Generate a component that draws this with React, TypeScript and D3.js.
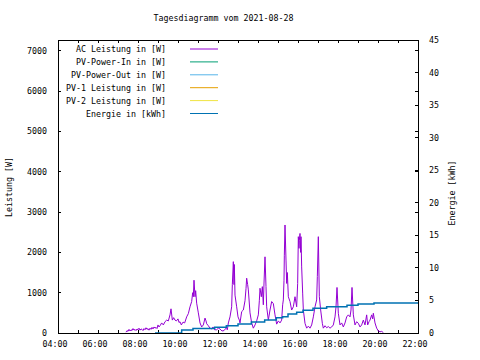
import React from "react";
import * as d3 from "d3";

const title = "Tagesdiagramm vom 2021-08-28";
const xTickLabels = ["04:00", "06:00", "08:00", "10:00", "12:00", "14:00", "16:00", "18:00", "20:00", "22:00"];
const yLeftTicks = [0, 1000, 2000, 3000, 4000, 5000, 6000, 7000];
const yRightTicks = [0, 5, 10, 15, 20, 25, 30, 35, 40, 45];

const seriesNames = [
  "AC Leistung in [W]",
  "PV-Power-In in [W]",
  "PV-Power-Out in [W]",
  "PV-1 Leistung in [W]",
  "PV-2 Leistung in [W]",
  "Energie in [kWh]",
];
const seriesColors = ["#9400d3", "#009e73", "#56b4e9", "#e69f00", "#f0e442", "#0072b2"];

const acTimes = [
  "07:24","07:27","07:30","07:33","07:36","07:39","07:42","07:45","07:48","07:51","07:54","07:57",
  "08:00","08:03","08:06","08:09","08:12","08:15","08:18","08:21","08:24","08:27","08:30","08:33",
  "08:36","08:39","08:42","08:45","08:48","08:51","08:54","08:57","09:00","09:03","09:06","09:11",
  "09:16","09:21","09:26","09:31","09:36","09:39","09:43","09:47","09:51","09:55","10:00","10:03",
  "10:06","10:10","10:15","10:20","10:26","10:31","10:36","10:41","10:44","10:46","10:48","10:51",
  "10:53","10:56","11:01","11:06","11:11","11:16","11:21","11:24","11:26","11:31","11:36","11:41",
  "11:45","11:50","11:56","12:01","12:06","12:12","12:18","12:24","12:28","12:31","12:36","12:41",
  "12:43","12:46","12:48","12:49","12:51","12:56","13:00","13:04","13:06","13:11","13:16","13:21",
  "13:24","13:26","13:29","13:31","13:36","13:41","13:46","13:51","13:56","14:01","14:04","14:06",
  "14:10","14:13","14:16","14:18","14:21","14:24","14:26","14:31","14:36","14:41","14:46","14:51",
  "14:56","15:01","15:06","15:11","15:14","15:16","15:18","15:19","15:21","15:24","15:26","15:28",
  "15:31","15:36","15:41","15:46","15:51","15:56","15:59","16:01","16:03","16:04","16:06","16:08",
  "16:09","16:11","16:14","16:16","16:21","16:26","16:31","16:36","16:41","16:46","16:51","16:56",
  "16:58","17:01","17:04","17:08","17:13","17:16","17:21","17:26","17:31","17:36","17:41","17:46",
  "17:51","17:54","17:57","18:01","18:06","18:11","18:16","18:21","18:26","18:31","18:36","18:39",
  "18:42","18:46","18:51","18:56","19:01","19:06","19:11","19:16","19:21","19:26","19:29","19:33",
  "19:36","19:41","19:44","19:46","19:51","19:56","20:01","20:06","20:11","20:16",
];
const acWatts = [
  20, 60, 40, 90, 50, 80, 60, 110, 70, 90, 60, 100,
  80, 120, 70, 100, 90, 60, 110, 80, 130, 90, 110, 70,
  120, 90, 140, 100, 150, 120, 140, 110, 200, 150, 180, 250,
  200, 280, 320, 300, 450, 600, 320, 380, 320, 300, 350, 260,
  280, 200, 270, 250, 400, 480, 650, 780, 1000, 900, 1310, 900,
  1050, 740, 500, 250, 150, 200, 370, 300, 230, 180, 120, 100,
  150, 80, 80, 120, 100, 50, 60, 120, 80, 250, 400, 650,
  1200, 1770, 1200, 1700, 940, 650, 400, 320, 250, 530, 570, 800,
  1100, 1360, 1200, 1070, 500, 250, 120, 200, 300, 450, 800, 1110,
  900, 1150, 700, 1240, 1890, 1150, 650, 320, 570, 780, 730, 450,
  220, 300, 250, 320, 700, 820, 1310, 1930, 2680, 1810, 1230, 1500,
  900, 780, 570, 650, 900, 650, 1230, 2390, 2100, 2300, 2470, 2000,
  2390, 1640, 990, 570, 240, 120, 170, 120, 200, 400, 650, 820,
  1400, 2390, 900, 570, 240, 120, 180, 130, 160, 120, 150, 200,
  400, 650, 1130, 490, 200, 250, 150, 250, 400, 450, 400, 570,
  1130, 450, 200, 280, 240, 150, 200, 320, 200, 450, 200, 280,
  320, 450, 350, 490, 250, 120, 50, 30, 40, 10,
];

const energyTimes = [
  "08:51","10:11","10:45","11:50","12:25","13:00","13:40","14:20","14:55","15:14",
  "15:30","15:56","16:15","16:45","17:26","18:27","19:00","19:48","22:00",
];
const energyKWh = [
  0, 0.45, 0.7, 0.9, 1.1, 1.4, 1.7, 2.0, 2.35, 2.5,
  2.9, 3.2, 3.5, 3.8, 4.05, 4.25, 4.45, 4.6, 4.6,
];

const toHours = (s: string) => {
  const [h, m] = s.split(":").map(Number);
  return h + m / 60;
};

const FONT = "'DejaVu Sans Mono', monospace";
const FS = 8.3;

export default function App() {
  const W = 480, H = 360;
  const L = 58, R = 418, T = 40, B = 333;
  const x = d3.scaleLinear().domain([4, 22]).range([L, R]);
  const yL = d3.scaleLinear().domain([0, 7270]).range([B, T]);
  const yR = d3.scaleLinear().domain([0, 45]).range([B, T]);

  const acData = acTimes.map((t, i) => [toHours(t), acWatts[i]] as [number, number]);
  const enData = energyTimes.map((t, i) => [toHours(t), energyKWh[i]] as [number, number]);

  const acLine = d3.line<[number, number]>().x(d => x(d[0])).y(d => yL(d[1]));
  const enLine = d3.line<[number, number]>().x(d => x(d[0])).y(d => yR(d[1])).curve(d3.curveStepAfter);

  const hourTicks = d3.range(4, 23, 1);
  const tk = 3;

  return (
    <svg width={W} height={H} style={{ display: "block", position: "absolute", left: 0, top: 0, background: "#fff" }}
      fontFamily={FONT} fontSize={FS}>
      <rect x={0} y={0} width={W} height={H} fill="#fff" />
      <text x={223.5} y={21} textAnchor="middle">{title}</text>

      {/* x ticks bottom & top */}
      <g stroke="#000" strokeWidth={1} shapeRendering="crispEdges">
        {hourTicks.map(h => (
          <g key={h}>
            <line x1={x(h)} x2={x(h)} y1={B} y2={B - tk} />
            <line x1={x(h)} x2={x(h)} y1={T} y2={T + tk} />
          </g>
        ))}
        {yLeftTicks.map(v => (
          <g key={"l" + v}>
            <line x1={L} x2={L + tk} y1={yL(v)} y2={yL(v)} />
            <line x1={R} x2={R - tk} y1={yL(v)} y2={yL(v)} />
          </g>
        ))}
        {yRightTicks.map(v => (
          <line key={"r" + v} x1={R} x2={R - tk} y1={yR(v)} y2={yR(v)} />
        ))}
      </g>

      {xTickLabels.map((s, i) => (
        <text key={s} x={x(toHours(s)) - 3} y={347} textAnchor="middle">{s}</text>
      ))}
      {yLeftTicks.map(v => (
        <text key={"tl" + v} x={47} y={yL(v) + 3} textAnchor="end">{v}</text>
      ))}
      {yRightTicks.map(v => (
        <text key={"tr" + v} x={429} y={yR(v) + 3} textAnchor="start">{v}</text>
      ))}

      <text transform={`translate(12,187) rotate(-90)`} textAnchor="middle">Leistung [W]</text>
      <text transform={`translate(455,193) rotate(-90)`} textAnchor="middle">Energie [kWh]</text>

      {/* data */}
      <path d={acLine(acData) || ""} fill="none" stroke={seriesColors[0]} strokeWidth={1} />
      <path d={enLine(enData) || ""} fill="none" stroke={seriesColors[5]} strokeWidth={1.5} />

      {/* legend */}
      {seriesNames.map((n, i) => {
        const yy = 49 + i * 12.9;
        return (
          <g key={n}>
            <text x={166} y={yy + 3} textAnchor="end">{n}</text>
            <line x1={190} x2={218} y1={yy} y2={yy} stroke={seriesColors[i]} strokeWidth={1} />
          </g>
        );
      })}

      {/* border */}
      <rect x={L} y={T} width={R - L} height={B - T} fill="none" stroke="#000" strokeWidth={1} shapeRendering="crispEdges" />
    </svg>
  );
}
